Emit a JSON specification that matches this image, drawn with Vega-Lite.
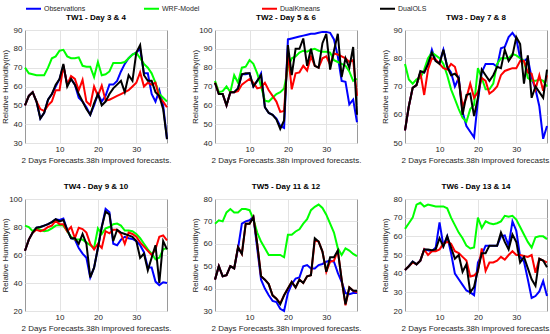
{
"$schema":"https://vega.github.io/schema/vega-lite/v6.json",
"padding":{"left":0,"top":0,"right":0,"bottom":0},
"config":{
 "font":"Liberation Sans",
 "view":{"stroke":"#9a9a9a","strokeWidth":1},
 "axis":{"labelFontSize":8,"labelColor":"#262626","titleFontSize":8,"titleFontWeight":"normal","titleColor":"#262626","gridColor":"#e3e3e3","domain":false,"ticks":false},
 "axisX":{"labelPadding":2,"titlePadding":3},
 "axisY":{"labelPadding":3,"titlePadding":2,"minExtent":14,"maxExtent":14},
 "title":{"fontSize":8,"fontWeight":"bold","color":"#000000","offset":4,"frame":"group"},
 "legend":{"title":" ","titleOrient":"left","titlePadding":21,"orient":"top","direction":"horizontal","columns":4,"gridAlign":"all","columnPadding":54,"symbolType":"stroke","symbolSize":225,"symbolStrokeWidth":2,"labelFontSize":7,"labelColor":"#262626","labelOffset":2,"offset":0},
 "line":{"strokeWidth":2}
},
"datasets":{"rh":[
{"p":"TW1","x":1,"Observations":50,"WRF-Model":70,"DualKmeans":50,"DualOLS":50},
{"p":"TW1","x":2,"Observations":55,"WRF-Model":67,"DualKmeans":55,"DualOLS":55},
{"p":"TW1","x":3,"Observations":57,"WRF-Model":66.5,"DualKmeans":57,"DualOLS":57},
{"p":"TW1","x":4,"Observations":52,"WRF-Model":66,"DualKmeans":52,"DualOLS":52},
{"p":"TW1","x":5,"Observations":43,"WRF-Model":66,"DualKmeans":48,"DualOLS":43},
{"p":"TW1","x":6,"Observations":46,"WRF-Model":66,"DualKmeans":47,"DualOLS":46},
{"p":"TW1","x":7,"Observations":53,"WRF-Model":70,"DualKmeans":50,"DualOLS":53},
{"p":"TW1","x":8,"Observations":56,"WRF-Model":75,"DualKmeans":52,"DualOLS":56},
{"p":"TW1","x":9,"Observations":60,"WRF-Model":76,"DualKmeans":58,"DualOLS":61},
{"p":"TW1","x":10,"Observations":64,"WRF-Model":79,"DualKmeans":58,"DualOLS":64},
{"p":"TW1","x":11,"Observations":71,"WRF-Model":79.5,"DualKmeans":71,"DualOLS":72},
{"p":"TW1","x":12,"Observations":61,"WRF-Model":76,"DualKmeans":61,"DualOLS":60},
{"p":"TW1","x":13,"Observations":64,"WRF-Model":75,"DualKmeans":65.5,"DualOLS":64},
{"p":"TW1","x":14,"Observations":61,"WRF-Model":75,"DualKmeans":64,"DualOLS":61},
{"p":"TW1","x":15,"Observations":54,"WRF-Model":75.5,"DualKmeans":58,"DualOLS":56},
{"p":"TW1","x":16,"Observations":52,"WRF-Model":71,"DualKmeans":63.5,"DualOLS":52},
{"p":"TW1","x":17,"Observations":49,"WRF-Model":70.5,"DualKmeans":52,"DualOLS":48},
{"p":"TW1","x":18,"Observations":45,"WRF-Model":70.5,"DualKmeans":50,"DualOLS":45},
{"p":"TW1","x":19,"Observations":50,"WRF-Model":65,"DualKmeans":60,"DualOLS":51},
{"p":"TW1","x":20,"Observations":56,"WRF-Model":73,"DualKmeans":55,"DualOLS":56},
{"p":"TW1","x":21,"Observations":52,"WRF-Model":66,"DualKmeans":60.5,"DualOLS":50},
{"p":"TW1","x":22,"Observations":55,"WRF-Model":66.5,"DualKmeans":52.5,"DualOLS":52},
{"p":"TW1","x":23,"Observations":61,"WRF-Model":68,"DualKmeans":53,"DualOLS":56},
{"p":"TW1","x":24,"Observations":61,"WRF-Model":72.5,"DualKmeans":54,"DualOLS":59},
{"p":"TW1","x":25,"Observations":63,"WRF-Model":72.5,"DualKmeans":55,"DualOLS":61},
{"p":"TW1","x":26,"Observations":68,"WRF-Model":72.5,"DualKmeans":56,"DualOLS":63},
{"p":"TW1","x":27,"Observations":72,"WRF-Model":73,"DualKmeans":57,"DualOLS":57},
{"p":"TW1","x":28,"Observations":75,"WRF-Model":75,"DualKmeans":58,"DualOLS":66},
{"p":"TW1","x":29,"Observations":77,"WRF-Model":77,"DualKmeans":60,"DualOLS":63},
{"p":"TW1","x":30,"Observations":78,"WRF-Model":78,"DualKmeans":62,"DualOLS":78},
{"p":"TW1","x":31,"Observations":80,"WRF-Model":75,"DualKmeans":67.5,"DualOLS":82},
{"p":"TW1","x":32,"Observations":67,"WRF-Model":72,"DualKmeans":60,"DualOLS":66},
{"p":"TW1","x":33,"Observations":67,"WRF-Model":70,"DualKmeans":62,"DualOLS":63},
{"p":"TW1","x":34,"Observations":56,"WRF-Model":67,"DualKmeans":61,"DualOLS":63},
{"p":"TW1","x":35,"Observations":52,"WRF-Model":62,"DualKmeans":62,"DualOLS":57},
{"p":"TW1","x":36,"Observations":58,"WRF-Model":56,"DualKmeans":54,"DualOLS":55},
{"p":"TW1","x":37,"Observations":50,"WRF-Model":54,"DualKmeans":52,"DualOLS":48},
{"p":"TW1","x":38,"Observations":32,"WRF-Model":52,"DualKmeans":49,"DualOLS":32},
{"p":"TW2","x":1,"Observations":72,"WRF-Model":73,"DualKmeans":72,"DualOLS":72},
{"p":"TW2","x":2,"Observations":66,"WRF-Model":67,"DualKmeans":66,"DualOLS":66},
{"p":"TW2","x":3,"Observations":66,"WRF-Model":67.5,"DualKmeans":66,"DualOLS":66},
{"p":"TW2","x":4,"Observations":60,"WRF-Model":70,"DualKmeans":60,"DualOLS":60},
{"p":"TW2","x":5,"Observations":67,"WRF-Model":67,"DualKmeans":67,"DualOLS":67},
{"p":"TW2","x":6,"Observations":67,"WRF-Model":76,"DualKmeans":67,"DualOLS":67},
{"p":"TW2","x":7,"Observations":69,"WRF-Model":72,"DualKmeans":67.5,"DualOLS":69},
{"p":"TW2","x":8,"Observations":76.5,"WRF-Model":80,"DualKmeans":71,"DualOLS":76.5},
{"p":"TW2","x":9,"Observations":76.5,"WRF-Model":80.5,"DualKmeans":72.5,"DualOLS":77},
{"p":"TW2","x":10,"Observations":77,"WRF-Model":84,"DualKmeans":74,"DualOLS":77},
{"p":"TW2","x":11,"Observations":70,"WRF-Model":82,"DualKmeans":72,"DualOLS":70},
{"p":"TW2","x":12,"Observations":73,"WRF-Model":77,"DualKmeans":69,"DualOLS":73},
{"p":"TW2","x":13,"Observations":77,"WRF-Model":70,"DualKmeans":69.5,"DualOLS":76},
{"p":"TW2","x":14,"Observations":59,"WRF-Model":62.5,"DualKmeans":72,"DualOLS":59},
{"p":"TW2","x":15,"Observations":56,"WRF-Model":62,"DualKmeans":68,"DualOLS":56},
{"p":"TW2","x":16,"Observations":55,"WRF-Model":64,"DualKmeans":65,"DualOLS":55},
{"p":"TW2","x":17,"Observations":53,"WRF-Model":66,"DualKmeans":62,"DualOLS":52.5},
{"p":"TW2","x":18,"Observations":49,"WRF-Model":67,"DualKmeans":56.5,"DualOLS":47.5},
{"p":"TW2","x":19,"Observations":48,"WRF-Model":69,"DualKmeans":57,"DualOLS":52},
{"p":"TW2","x":20,"Observations":95,"WRF-Model":80,"DualKmeans":88,"DualOLS":92},
{"p":"TW2","x":21,"Observations":95.5,"WRF-Model":85,"DualKmeans":68.5,"DualOLS":76},
{"p":"TW2","x":22,"Observations":96,"WRF-Model":86,"DualKmeans":77,"DualOLS":90},
{"p":"TW2","x":23,"Observations":96.5,"WRF-Model":88,"DualKmeans":77.5,"DualOLS":90},
{"p":"TW2","x":24,"Observations":97,"WRF-Model":89,"DualKmeans":81,"DualOLS":95.5},
{"p":"TW2","x":25,"Observations":97.5,"WRF-Model":88.5,"DualKmeans":78.5,"DualOLS":81},
{"p":"TW2","x":26,"Observations":98,"WRF-Model":89.5,"DualKmeans":86,"DualOLS":90},
{"p":"TW2","x":27,"Observations":98,"WRF-Model":90,"DualKmeans":81,"DualOLS":81},
{"p":"TW2","x":28,"Observations":98.5,"WRF-Model":89,"DualKmeans":80,"DualOLS":80},
{"p":"TW2","x":29,"Observations":99,"WRF-Model":88.5,"DualKmeans":85,"DualOLS":93},
{"p":"TW2","x":30,"Observations":99,"WRF-Model":88.5,"DualKmeans":86,"DualOLS":98},
{"p":"TW2","x":31,"Observations":98.5,"WRF-Model":88,"DualKmeans":81.5,"DualOLS":79},
{"p":"TW2","x":32,"Observations":95,"WRF-Model":84,"DualKmeans":87.5,"DualOLS":89},
{"p":"TW2","x":33,"Observations":86,"WRF-Model":83,"DualKmeans":87,"DualOLS":98},
{"p":"TW2","x":34,"Observations":73,"WRF-Model":82,"DualKmeans":86,"DualOLS":75},
{"p":"TW2","x":35,"Observations":72.5,"WRF-Model":81,"DualKmeans":85,"DualOLS":85},
{"p":"TW2","x":36,"Observations":60.5,"WRF-Model":78,"DualKmeans":83,"DualOLS":80},
{"p":"TW2","x":37,"Observations":63,"WRF-Model":73,"DualKmeans":84,"DualOLS":91},
{"p":"TW2","x":38,"Observations":51,"WRF-Model":74,"DualKmeans":65,"DualOLS":55},
{"p":"TW3","x":1,"Observations":54.5,"WRF-Model":78,"DualKmeans":54.5,"DualOLS":54.5},
{"p":"TW3","x":2,"Observations":63,"WRF-Model":72.5,"DualKmeans":63,"DualOLS":63},
{"p":"TW3","x":3,"Observations":69.5,"WRF-Model":71,"DualKmeans":69.5,"DualOLS":69.5},
{"p":"TW3","x":4,"Observations":70.5,"WRF-Model":72.5,"DualKmeans":70.5,"DualOLS":70.5},
{"p":"TW3","x":5,"Observations":75,"WRF-Model":73,"DualKmeans":75,"DualOLS":75.5},
{"p":"TW3","x":6,"Observations":75,"WRF-Model":76,"DualKmeans":67,"DualOLS":75},
{"p":"TW3","x":7,"Observations":78,"WRF-Model":80,"DualKmeans":76,"DualOLS":78},
{"p":"TW3","x":8,"Observations":83,"WRF-Model":82,"DualKmeans":80,"DualOLS":82},
{"p":"TW3","x":9,"Observations":79,"WRF-Model":81,"DualKmeans":79.5,"DualOLS":79},
{"p":"TW3","x":10,"Observations":78.5,"WRF-Model":80,"DualKmeans":78,"DualOLS":78},
{"p":"TW3","x":11,"Observations":83,"WRF-Model":78,"DualKmeans":76.5,"DualOLS":83},
{"p":"TW3","x":12,"Observations":77,"WRF-Model":74,"DualKmeans":76,"DualOLS":77},
{"p":"TW3","x":13,"Observations":75,"WRF-Model":69,"DualKmeans":78,"DualOLS":74},
{"p":"TW3","x":14,"Observations":70,"WRF-Model":65.5,"DualKmeans":77,"DualOLS":74.5},
{"p":"TW3","x":15,"Observations":73,"WRF-Model":62,"DualKmeans":72,"DualOLS":73},
{"p":"TW3","x":16,"Observations":61,"WRF-Model":59,"DualKmeans":63,"DualOLS":60},
{"p":"TW3","x":17,"Observations":56,"WRF-Model":57.5,"DualKmeans":66,"DualOLS":67},
{"p":"TW3","x":18,"Observations":54,"WRF-Model":62,"DualKmeans":71,"DualOLS":67.5},
{"p":"TW3","x":19,"Observations":52,"WRF-Model":63.5,"DualKmeans":66,"DualOLS":59.5},
{"p":"TW3","x":20,"Observations":65,"WRF-Model":76.5,"DualKmeans":68,"DualOLS":66},
{"p":"TW3","x":21,"Observations":75,"WRF-Model":73,"DualKmeans":73,"DualOLS":76},
{"p":"TW3","x":22,"Observations":78,"WRF-Model":69,"DualKmeans":72,"DualOLS":74},
{"p":"TW3","x":23,"Observations":78,"WRF-Model":69,"DualKmeans":67.5,"DualOLS":72},
{"p":"TW3","x":24,"Observations":78,"WRF-Model":71,"DualKmeans":68.5,"DualOLS":74},
{"p":"TW3","x":25,"Observations":77,"WRF-Model":78,"DualKmeans":70,"DualOLS":77},
{"p":"TW3","x":26,"Observations":83.5,"WRF-Model":80,"DualKmeans":74,"DualOLS":76.5},
{"p":"TW3","x":27,"Observations":84,"WRF-Model":80,"DualKmeans":75.5,"DualOLS":83},
{"p":"TW3","x":28,"Observations":87.5,"WRF-Model":80,"DualKmeans":76,"DualOLS":79},
{"p":"TW3","x":29,"Observations":89,"WRF-Model":81.5,"DualKmeans":76.5,"DualOLS":81},
{"p":"TW3","x":30,"Observations":87,"WRF-Model":81,"DualKmeans":76.5,"DualOLS":87.5},
{"p":"TW3","x":31,"Observations":80,"WRF-Model":80,"DualKmeans":79,"DualOLS":85},
{"p":"TW3","x":32,"Observations":79,"WRF-Model":79,"DualKmeans":79,"DualOLS":71},
{"p":"TW3","x":33,"Observations":80,"WRF-Model":73,"DualKmeans":75,"DualOLS":81},
{"p":"TW3","x":34,"Observations":73,"WRF-Model":72,"DualKmeans":74.5,"DualOLS":66},
{"p":"TW3","x":35,"Observations":69,"WRF-Model":72,"DualKmeans":69,"DualOLS":70},
{"p":"TW3","x":36,"Observations":63,"WRF-Model":72.5,"DualKmeans":74,"DualOLS":68},
{"p":"TW3","x":37,"Observations":51.5,"WRF-Model":72,"DualKmeans":68.5,"DualOLS":66},
{"p":"TW3","x":38,"Observations":56,"WRF-Model":70,"DualKmeans":74,"DualOLS":76},
{"p":"TW4","x":1,"Observations":63,"WRF-Model":81,"DualKmeans":63,"DualOLS":63},
{"p":"TW4","x":2,"Observations":71,"WRF-Model":80,"DualKmeans":71,"DualOLS":71},
{"p":"TW4","x":3,"Observations":76,"WRF-Model":77,"DualKmeans":76,"DualOLS":76},
{"p":"TW4","x":4,"Observations":79.5,"WRF-Model":79,"DualKmeans":78,"DualOLS":79.5},
{"p":"TW4","x":5,"Observations":80,"WRF-Model":78,"DualKmeans":77,"DualOLS":80},
{"p":"TW4","x":6,"Observations":81,"WRF-Model":77,"DualKmeans":78,"DualOLS":81},
{"p":"TW4","x":7,"Observations":82,"WRF-Model":77.5,"DualKmeans":80,"DualOLS":82},
{"p":"TW4","x":8,"Observations":83.5,"WRF-Model":79,"DualKmeans":81,"DualOLS":83.5},
{"p":"TW4","x":9,"Observations":85.5,"WRF-Model":81,"DualKmeans":84.5,"DualOLS":85.5},
{"p":"TW4","x":10,"Observations":85,"WRF-Model":81.5,"DualKmeans":82,"DualOLS":84},
{"p":"TW4","x":11,"Observations":86,"WRF-Model":81,"DualKmeans":82,"DualOLS":85},
{"p":"TW4","x":12,"Observations":78,"WRF-Model":77,"DualKmeans":77,"DualOLS":78},
{"p":"TW4","x":13,"Observations":72,"WRF-Model":73,"DualKmeans":80,"DualOLS":72},
{"p":"TW4","x":14,"Observations":71,"WRF-Model":71,"DualKmeans":72,"DualOLS":72},
{"p":"TW4","x":15,"Observations":65,"WRF-Model":71,"DualKmeans":79.5,"DualOLS":68},
{"p":"TW4","x":16,"Observations":61,"WRF-Model":71,"DualKmeans":78.5,"DualOLS":75},
{"p":"TW4","x":17,"Observations":58,"WRF-Model":69,"DualKmeans":76,"DualOLS":68},
{"p":"TW4","x":18,"Observations":44,"WRF-Model":67,"DualKmeans":68,"DualOLS":44},
{"p":"TW4","x":19,"Observations":51,"WRF-Model":65,"DualKmeans":64,"DualOLS":51},
{"p":"TW4","x":20,"Observations":65,"WRF-Model":79,"DualKmeans":68,"DualOLS":65},
{"p":"TW4","x":21,"Observations":80,"WRF-Model":75,"DualKmeans":65,"DualOLS":80},
{"p":"TW4","x":22,"Observations":93,"WRF-Model":79,"DualKmeans":77,"DualOLS":91},
{"p":"TW4","x":23,"Observations":90.5,"WRF-Model":80,"DualKmeans":75.5,"DualOLS":89},
{"p":"TW4","x":24,"Observations":68,"WRF-Model":82,"DualKmeans":78,"DualOLS":70},
{"p":"TW4","x":25,"Observations":67,"WRF-Model":82.5,"DualKmeans":78,"DualOLS":78},
{"p":"TW4","x":26,"Observations":71,"WRF-Model":81,"DualKmeans":75,"DualOLS":76},
{"p":"TW4","x":27,"Observations":73,"WRF-Model":77.5,"DualKmeans":68,"DualOLS":75},
{"p":"TW4","x":28,"Observations":72,"WRF-Model":77.5,"DualKmeans":76,"DualOLS":74},
{"p":"TW4","x":29,"Observations":71.5,"WRF-Model":77,"DualKmeans":75,"DualOLS":73},
{"p":"TW4","x":30,"Observations":70,"WRF-Model":75,"DualKmeans":73,"DualOLS":70},
{"p":"TW4","x":31,"Observations":67,"WRF-Model":72,"DualKmeans":69,"DualOLS":58},
{"p":"TW4","x":32,"Observations":62,"WRF-Model":68,"DualKmeans":66,"DualOLS":61},
{"p":"TW4","x":33,"Observations":51,"WRF-Model":64,"DualKmeans":63,"DualOLS":49},
{"p":"TW4","x":34,"Observations":51,"WRF-Model":61,"DualKmeans":60,"DualOLS":58},
{"p":"TW4","x":35,"Observations":41,"WRF-Model":57,"DualKmeans":64,"DualOLS":67},
{"p":"TW4","x":36,"Observations":38.5,"WRF-Model":58,"DualKmeans":73,"DualOLS":40},
{"p":"TW4","x":37,"Observations":40.5,"WRF-Model":64,"DualKmeans":74,"DualOLS":70},
{"p":"TW4","x":38,"Observations":40,"WRF-Model":65,"DualKmeans":70.5,"DualOLS":64},
{"p":"TW5","x":1,"Observations":44,"WRF-Model":69,"DualKmeans":44,"DualOLS":44},
{"p":"TW5","x":2,"Observations":50,"WRF-Model":70.5,"DualKmeans":50,"DualOLS":50},
{"p":"TW5","x":3,"Observations":45.5,"WRF-Model":70,"DualKmeans":45.5,"DualOLS":45.5},
{"p":"TW5","x":4,"Observations":46,"WRF-Model":74,"DualKmeans":46,"DualOLS":46},
{"p":"TW5","x":5,"Observations":50,"WRF-Model":75.5,"DualKmeans":50,"DualOLS":50},
{"p":"TW5","x":6,"Observations":49,"WRF-Model":74,"DualKmeans":49,"DualOLS":49},
{"p":"TW5","x":7,"Observations":58,"WRF-Model":74,"DualKmeans":58.5,"DualOLS":58.5},
{"p":"TW5","x":8,"Observations":69,"WRF-Model":75.5,"DualKmeans":55.5,"DualOLS":55.5},
{"p":"TW5","x":9,"Observations":70,"WRF-Model":75.5,"DualKmeans":69,"DualOLS":69},
{"p":"TW5","x":10,"Observations":70.5,"WRF-Model":75,"DualKmeans":69,"DualOLS":69},
{"p":"TW5","x":11,"Observations":72,"WRF-Model":71,"DualKmeans":72,"DualOLS":72},
{"p":"TW5","x":12,"Observations":58,"WRF-Model":65,"DualKmeans":60,"DualOLS":60},
{"p":"TW5","x":13,"Observations":44,"WRF-Model":61,"DualKmeans":45.5,"DualOLS":45.5},
{"p":"TW5","x":14,"Observations":40,"WRF-Model":58,"DualKmeans":44,"DualOLS":44},
{"p":"TW5","x":15,"Observations":37,"WRF-Model":55,"DualKmeans":42,"DualOLS":42},
{"p":"TW5","x":16,"Observations":34.5,"WRF-Model":55,"DualKmeans":37,"DualOLS":37},
{"p":"TW5","x":17,"Observations":34,"WRF-Model":55,"DualKmeans":35.5,"DualOLS":35.5},
{"p":"TW5","x":18,"Observations":31,"WRF-Model":55,"DualKmeans":33.5,"DualOLS":33},
{"p":"TW5","x":19,"Observations":30,"WRF-Model":54,"DualKmeans":37,"DualOLS":37},
{"p":"TW5","x":20,"Observations":38,"WRF-Model":64,"DualKmeans":40,"DualOLS":40},
{"p":"TW5","x":21,"Observations":42,"WRF-Model":64,"DualKmeans":43,"DualOLS":43},
{"p":"TW5","x":22,"Observations":44.5,"WRF-Model":65.5,"DualKmeans":40.5,"DualOLS":40.5},
{"p":"TW5","x":23,"Observations":45,"WRF-Model":66.5,"DualKmeans":44,"DualOLS":44},
{"p":"TW5","x":24,"Observations":50,"WRF-Model":69,"DualKmeans":42.5,"DualOLS":42.5},
{"p":"TW5","x":25,"Observations":50.5,"WRF-Model":71,"DualKmeans":45.5,"DualOLS":45.5},
{"p":"TW5","x":26,"Observations":49,"WRF-Model":75,"DualKmeans":46,"DualOLS":46},
{"p":"TW5","x":27,"Observations":49,"WRF-Model":76.5,"DualKmeans":61.5,"DualOLS":62.5},
{"p":"TW5","x":28,"Observations":50.5,"WRF-Model":77.5,"DualKmeans":61,"DualOLS":61},
{"p":"TW5","x":29,"Observations":51,"WRF-Model":76,"DualKmeans":56.5,"DualOLS":56.5},
{"p":"TW5","x":30,"Observations":52,"WRF-Model":73,"DualKmeans":47.5,"DualOLS":47.5},
{"p":"TW5","x":31,"Observations":52.5,"WRF-Model":69,"DualKmeans":52,"DualOLS":54},
{"p":"TW5","x":32,"Observations":52,"WRF-Model":65,"DualKmeans":52.5,"DualOLS":54},
{"p":"TW5","x":33,"Observations":47,"WRF-Model":58,"DualKmeans":57,"DualOLS":57},
{"p":"TW5","x":34,"Observations":43,"WRF-Model":55,"DualKmeans":44,"DualOLS":44},
{"p":"TW5","x":35,"Observations":38,"WRF-Model":58,"DualKmeans":32.5,"DualOLS":33},
{"p":"TW5","x":36,"Observations":37.5,"WRF-Model":57,"DualKmeans":40.5,"DualOLS":40.5},
{"p":"TW5","x":37,"Observations":38,"WRF-Model":55.5,"DualKmeans":39,"DualOLS":39},
{"p":"TW5","x":38,"Observations":38,"WRF-Model":54.5,"DualKmeans":38.5,"DualOLS":39},
{"p":"TW6","x":1,"Observations":42,"WRF-Model":64,"DualKmeans":42,"DualOLS":42},
{"p":"TW6","x":2,"Observations":44,"WRF-Model":67,"DualKmeans":44,"DualOLS":44},
{"p":"TW6","x":3,"Observations":46.5,"WRF-Model":70,"DualKmeans":46,"DualOLS":46.5},
{"p":"TW6","x":4,"Observations":45,"WRF-Model":77,"DualKmeans":45,"DualOLS":45},
{"p":"TW6","x":5,"Observations":47,"WRF-Model":78,"DualKmeans":47,"DualOLS":47},
{"p":"TW6","x":6,"Observations":53,"WRF-Model":76,"DualKmeans":53,"DualOLS":53},
{"p":"TW6","x":7,"Observations":52.5,"WRF-Model":77,"DualKmeans":50,"DualOLS":53},
{"p":"TW6","x":8,"Observations":52,"WRF-Model":76.5,"DualKmeans":52,"DualOLS":52.5},
{"p":"TW6","x":9,"Observations":54,"WRF-Model":76,"DualKmeans":52,"DualOLS":53},
{"p":"TW6","x":10,"Observations":67.5,"WRF-Model":76,"DualKmeans":53,"DualOLS":59},
{"p":"TW6","x":11,"Observations":55,"WRF-Model":76,"DualKmeans":56,"DualOLS":54.5},
{"p":"TW6","x":12,"Observations":60,"WRF-Model":75,"DualKmeans":57,"DualOLS":60},
{"p":"TW6","x":13,"Observations":51,"WRF-Model":70,"DualKmeans":56,"DualOLS":54},
{"p":"TW6","x":14,"Observations":40,"WRF-Model":66,"DualKmeans":52,"DualOLS":48},
{"p":"TW6","x":15,"Observations":37,"WRF-Model":62,"DualKmeans":51,"DualOLS":50},
{"p":"TW6","x":16,"Observations":34,"WRF-Model":59,"DualKmeans":49,"DualOLS":41},
{"p":"TW6","x":17,"Observations":31,"WRF-Model":55,"DualKmeans":47,"DualOLS":45},
{"p":"TW6","x":18,"Observations":30,"WRF-Model":53.5,"DualKmeans":38.5,"DualOLS":30},
{"p":"TW6","x":19,"Observations":28.5,"WRF-Model":54,"DualKmeans":39,"DualOLS":33},
{"p":"TW6","x":20,"Observations":46,"WRF-Model":70,"DualKmeans":41,"DualOLS":42},
{"p":"TW6","x":21,"Observations":50,"WRF-Model":64.5,"DualKmeans":53.5,"DualOLS":51},
{"p":"TW6","x":22,"Observations":55,"WRF-Model":68,"DualKmeans":41.5,"DualOLS":51},
{"p":"TW6","x":23,"Observations":55,"WRF-Model":67,"DualKmeans":46,"DualOLS":55},
{"p":"TW6","x":24,"Observations":55,"WRF-Model":66.5,"DualKmeans":46,"DualOLS":55},
{"p":"TW6","x":25,"Observations":55,"WRF-Model":67,"DualKmeans":47,"DualOLS":55},
{"p":"TW6","x":26,"Observations":60,"WRF-Model":68,"DualKmeans":49,"DualOLS":62},
{"p":"TW6","x":27,"Observations":60.5,"WRF-Model":71,"DualKmeans":47.5,"DualOLS":57},
{"p":"TW6","x":28,"Observations":55,"WRF-Model":70.5,"DualKmeans":50,"DualOLS":53},
{"p":"TW6","x":29,"Observations":68,"WRF-Model":71,"DualKmeans":52,"DualOLS":61},
{"p":"TW6","x":30,"Observations":63,"WRF-Model":69,"DualKmeans":50,"DualOLS":57},
{"p":"TW6","x":31,"Observations":49,"WRF-Model":65,"DualKmeans":50,"DualOLS":46},
{"p":"TW6","x":32,"Observations":46.5,"WRF-Model":61,"DualKmeans":49.5,"DualOLS":49},
{"p":"TW6","x":33,"Observations":37,"WRF-Model":57,"DualKmeans":49,"DualOLS":43},
{"p":"TW6","x":34,"Observations":27,"WRF-Model":54,"DualKmeans":50,"DualOLS":37},
{"p":"TW6","x":35,"Observations":28,"WRF-Model":59.5,"DualKmeans":40.5,"DualOLS":33.5},
{"p":"TW6","x":36,"Observations":30.5,"WRF-Model":60,"DualKmeans":48,"DualOLS":48},
{"p":"TW6","x":37,"Observations":36,"WRF-Model":60,"DualKmeans":47,"DualOLS":47},
{"p":"TW6","x":38,"Observations":28,"WRF-Model":58.5,"DualKmeans":46,"DualOLS":43.5}
]},
"data":{"name":"rh"},
"transform":[{"fold":["Observations","WRF-Model","DualKmeans","DualOLS"],"as":["series","rh"]}],
"spacing":17,
"resolve":{"scale":{"x":"independent","y":"independent"}},
"vconcat":[
{"spacing":18,"resolve":{"scale":{"x":"independent","y":"independent"}},"hconcat":[
{"title":"TW1 - Day 3 & 4","width":142,"height":113,"transform":[{"filter":"datum.p == 'TW1'"}],"mark":"line","encoding":{
"x":{"field":"x","type":"quantitative","scale":{"domain":[1,38],"nice":false,"zero":false},"axis":{"values":[10,20,30],"title":"2 Days Forecasts.38h improved forecasts."}},
"y":{"field":"rh","type":"quantitative","scale":{"domain":[30,90],"nice":false,"zero":false},"axis":{"values":[30,40,50,60,70,80,90],"title":"Relative Humidity(m)"}},
"color":{"field":"series","type":"nominal","scale":{"domain":["Observations","WRF-Model","DualKmeans","DualOLS"],"range":["#0000ff","#00ff00","#ff0000","#000000"]}}}},
{"title":"TW2 - Day 5 & 6","width":142,"height":113,"transform":[{"filter":"datum.p == 'TW2'"}],"mark":"line","encoding":{
"x":{"field":"x","type":"quantitative","scale":{"domain":[1,38],"nice":false,"zero":false},"axis":{"values":[10,20,30],"title":"2 Days Forecasts.38h improved forecasts."}},
"y":{"field":"rh","type":"quantitative","scale":{"domain":[40,100],"nice":false,"zero":false},"axis":{"values":[40,50,60,70,80,90,100],"title":"Relative Humidity(m)"}},
"color":{"field":"series","type":"nominal","scale":{"domain":["Observations","WRF-Model","DualKmeans","DualOLS"],"range":["#0000ff","#00ff00","#ff0000","#000000"]}}}},
{"title":"TW3 - Day 7 & 8","width":142,"height":113,"transform":[{"filter":"datum.p == 'TW3'"}],"mark":"line","encoding":{
"x":{"field":"x","type":"quantitative","scale":{"domain":[1,38],"nice":false,"zero":false},"axis":{"values":[10,20,30],"title":"2 Days Forecasts.38h improved forecasts."}},
"y":{"field":"rh","type":"quantitative","scale":{"domain":[50,90],"nice":false,"zero":false},"axis":{"values":[50,60,70,80,90],"title":"Relative Humidity(m)"}},
"color":{"field":"series","type":"nominal","scale":{"domain":["Observations","WRF-Model","DualKmeans","DualOLS"],"range":["#0000ff","#00ff00","#ff0000","#000000"]}}}}
]},
{"spacing":18,"resolve":{"scale":{"x":"independent","y":"independent"}},"hconcat":[
{"title":"TW4 - Day 9 & 10","width":142,"height":112,"transform":[{"filter":"datum.p == 'TW4'"}],"mark":"line","encoding":{
"x":{"field":"x","type":"quantitative","scale":{"domain":[1,38],"nice":false,"zero":false},"axis":{"values":[10,20,30],"title":"2 Days Forecasts.38h improved forecasts."}},
"y":{"field":"rh","type":"quantitative","scale":{"domain":[20,100],"nice":false,"zero":false},"axis":{"values":[20,40,60,80,100],"title":"Relative Humidity(m)"}},
"color":{"field":"series","type":"nominal","scale":{"domain":["Observations","WRF-Model","DualKmeans","DualOLS"],"range":["#0000ff","#00ff00","#ff0000","#000000"]}}}},
{"title":"TW5 - Day 11 & 12","width":142,"height":112,"transform":[{"filter":"datum.p == 'TW5'"}],"mark":"line","encoding":{
"x":{"field":"x","type":"quantitative","scale":{"domain":[1,38],"nice":false,"zero":false},"axis":{"values":[10,20,30],"title":"2 Days Forecasts.38h improved forecasts."}},
"y":{"field":"rh","type":"quantitative","scale":{"domain":[30,80],"nice":false,"zero":false},"axis":{"values":[30,40,50,60,70,80],"title":"Relative Humidity(m)"}},
"color":{"field":"series","type":"nominal","scale":{"domain":["Observations","WRF-Model","DualKmeans","DualOLS"],"range":["#0000ff","#00ff00","#ff0000","#000000"]}}}},
{"title":"TW6 - Day 13 & 14","width":142,"height":112,"transform":[{"filter":"datum.p == 'TW6'"}],"mark":"line","encoding":{
"x":{"field":"x","type":"quantitative","scale":{"domain":[1,38],"nice":false,"zero":false},"axis":{"values":[10,20,30],"title":"2 Days Forecasts.38h improved forecasts."}},
"y":{"field":"rh","type":"quantitative","scale":{"domain":[20,80],"nice":false,"zero":false},"axis":{"values":[20,30,40,50,60,70,80],"title":"Relative Humidity(m)"}},
"color":{"field":"series","type":"nominal","scale":{"domain":["Observations","WRF-Model","DualKmeans","DualOLS"],"range":["#0000ff","#00ff00","#ff0000","#000000"]}}}}
]}
]
}
